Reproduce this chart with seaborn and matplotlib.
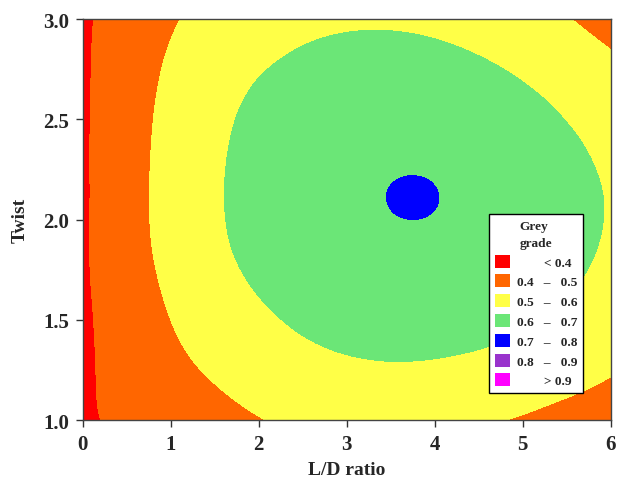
import numpy as np
import matplotlib
matplotlib.use("Agg")
import matplotlib.pyplot as plt
from matplotlib.patches import Patch
import seaborn as sns

# contour crossings: L/D ratio, twist, grey grade
ld_pts = [0.12, 0.10, 0.09, 0.075, 0.08, 0.12, 0.15, 0.18,
          1.11, 0.90, 0.80, 0.76, 0.75, 0.77, 0.86, 0.97, 1.14, 1.48, 1.75, 2.11,
          5.48, 5.75, 6.0, 4.69, 5.35, 6.0,
          2.24, 1.94, 1.75, 1.64, 1.62, 1.67, 1.86, 2.20, 2.47, 2.81, 3.57, 4.59,
          2.70, 3.15, 3.38, 4.14, 4.89, 5.27, 5.65, 5.84, 5.90, 5.76, 5.30,
          3.45, 4.05, 3.75, 3.75, 3.54, 3.96, 3.54, 3.96,
          3.75, 0.0, 0.0, 6.0, 6.0, 0.0, 6.0]
twist_pts = [2.99, 2.78, 2.53, 2.03, 1.80, 1.53, 1.28, 1.03,
             3.0, 2.78, 2.53, 2.28, 2.03, 1.86, 1.70, 1.53, 1.36, 1.20, 1.10, 1.0,
             3.0, 2.91, 2.82, 1.0, 1.10, 1.23,
             2.79, 2.69, 2.53, 2.28, 2.03, 1.86, 1.70, 1.53, 1.42, 1.35, 1.29, 1.35,
             2.90, 2.94, 2.94, 2.88, 2.73, 2.61, 2.41, 2.23, 2.03, 1.77, 1.50,
             2.11, 2.11, 2.22, 2.00, 2.19, 2.19, 2.03, 2.03,
             2.11, 3.0, 1.0, 3.0, 1.0, 2.1, 2.1]
grade_pts = [0.4] * 8 + [0.5] * 18 + [0.6] * 23 + [0.7] * 8 + \
            [0.702, 0.385, 0.38, 0.48, 0.465, 0.388, 0.594]

levels = [0, 0.4, 0.5, 0.6, 0.7, 0.8, 0.9, 1.0]
colors = ["#FF0000", "#FF6600", "#FFFF47", "#6BE677", "#0000FF", "#9933CC", "#FF00FF"]
labels = ["        < 0.4", "0.4   \u2013   0.5", "0.5   \u2013   0.6",
          "0.6   \u2013   0.7", "0.7   \u2013   0.8", "0.8   \u2013   0.9",
          "        > 0.9"]

# smoothing thin plate spline through the read points
pts = np.column_stack([np.array(ld_pts), np.array(twist_pts) * 2.27])
z = np.array(grade_pts)

def tps(r):
    with np.errstate(divide="ignore", invalid="ignore"):
        return np.where(r > 0, r**2 * np.log(r), 0.0)

n = len(z)
smooth = np.where((z == 0.5) | (z == 0.6), 0.4, 0.02)
K = tps(np.linalg.norm(pts[:, None] - pts[None], axis=-1)) + np.diag(smooth)
P = np.column_stack([np.ones(n), pts])
A = np.block([[K, P], [P.T, np.zeros((3, 3))]])
sol = np.linalg.solve(A, np.concatenate([z, np.zeros(3)]))
w, a = sol[:n], sol[n:]

gx, gy = np.meshgrid(np.linspace(0, 6, 420), np.linspace(1, 3, 300))
g = np.column_stack([gx.ravel(), gy.ravel() * 2.27])
gz = tps(np.linalg.norm(g[:, None] - pts[None], axis=-1)) @ w + a[0] + g @ a[1:]
gz = gz.reshape(gx.shape)

sns.set_theme(style="ticks")
plt.rcParams["font.family"] = ["Liberation Serif", "DejaVu Serif"]
plt.rcParams["font.weight"] = "bold"

fig = plt.figure(figsize=(6.18, 4.81), dpi=100)
ax = fig.add_axes([0.1338, 0.1247, 0.8544, 0.8337])
ax.contourf(gx, gy, np.clip(gz, 0.001, 0.999), levels=levels, colors=colors)

ax.set_xlim(0, 6)
ax.set_ylim(1, 3)
ax.set_xticks(range(7))
ax.set_yticks([1.0, 1.5, 2.0, 2.5, 3.0])
ax.set_yticklabels(["1.0", "1.5", "2.0", "2.5", "3.0"])
ax.tick_params(labelsize=15, length=5, width=1, color="#333333", pad=5)
for lab in ax.get_xticklabels() + ax.get_yticklabels():
    lab.set_fontweight("bold")
for s in ax.spines.values():
    s.set_color("#444444")
    s.set_linewidth(1)
ax.set_xlabel("L/D ratio", fontsize=14, fontweight="bold", labelpad=5)
ax.set_ylabel("Twist", fontsize=14, fontweight="bold", labelpad=10)

handles = [Patch(facecolor=c, edgecolor="none") for c in colors]
leg = ax.legend(handles, labels, title="Grey\ngrade", loc="lower left",
                bbox_to_anchor=(0.770, 0.068), borderaxespad=0,
                prop={"size": 9.6, "weight": "bold"},
                title_fontproperties={"size": 9.6, "weight": "bold"},
                handlelength=1.18, handleheight=1.13, labelspacing=0.43,
                handletextpad=0.5, fancybox=False, framealpha=1,
                edgecolor="black", borderpad=0.4)
leg.get_title().set_linespacing(1.6)
leg.get_frame().set_linewidth(1)

fig.savefig("out.png", dpi=100)
